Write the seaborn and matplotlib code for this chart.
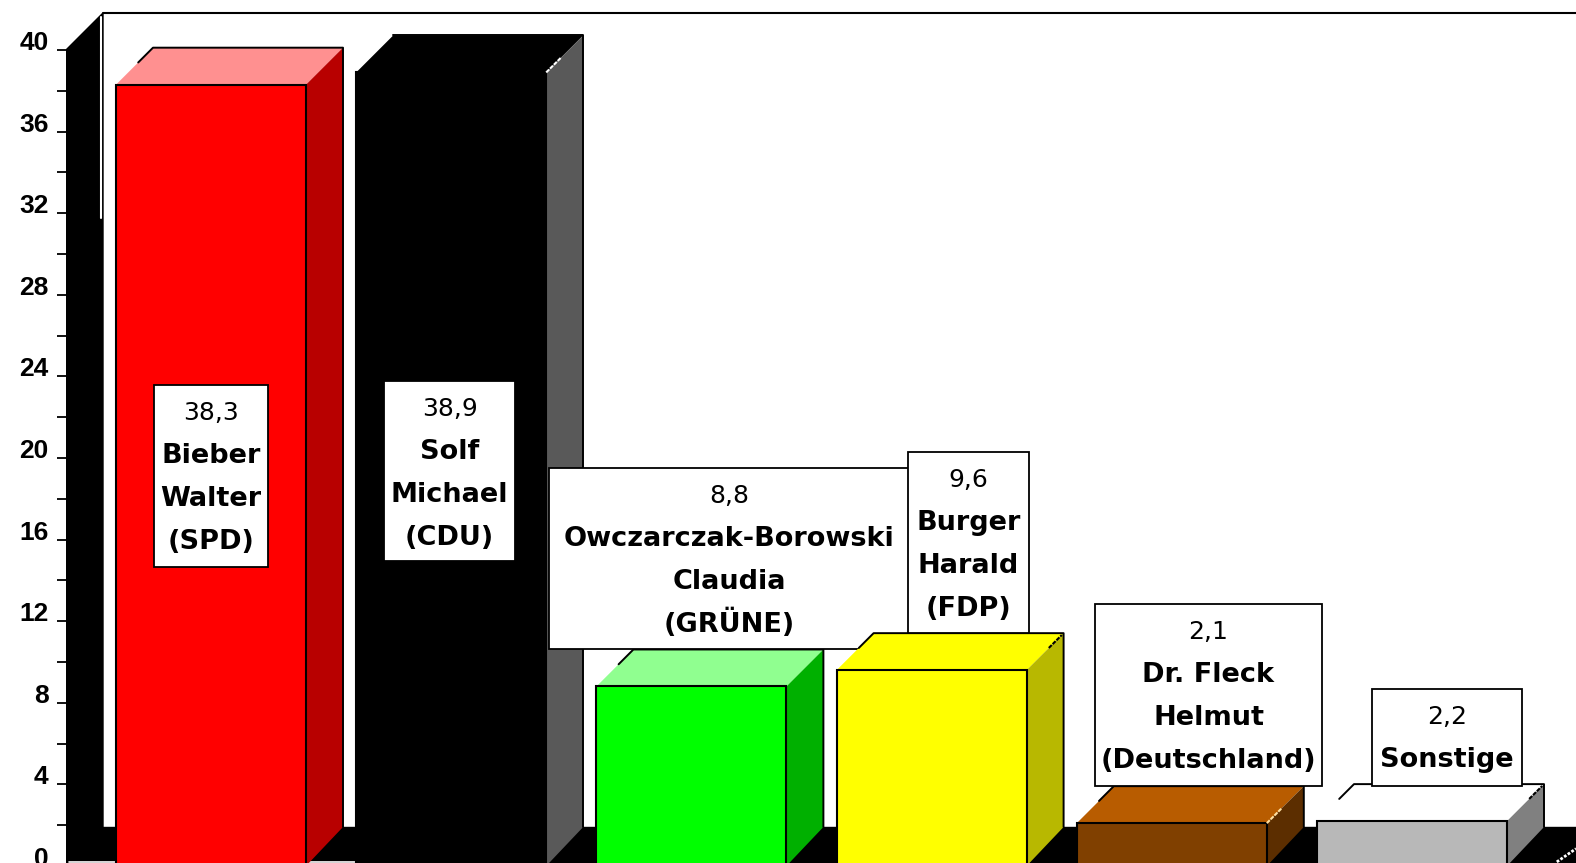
import matplotlib
matplotlib.use("Agg")
import matplotlib.pyplot as plt
import seaborn as sns
import pandas as pd
from matplotlib.patches import Polygon, Rectangle
from matplotlib.transforms import Affine2D

kandidaten = ["Bieber Walter", "Solf Michael", "Owczarczak-Borowski Claudia",
              "Burger Harald", "Dr. Fleck Helmut", "Sonstige"]
werte = [38.3, 38.9, 8.8, 9.6, 2.1, 2.2]
wert_labels = ["38,3", "38,9", "8,8", "9,6", "2,1", "2,2"]
namen = [["Bieber", "Walter", "(SPD)"],
         ["Solf", "Michael", "(CDU)"],
         ["Owczarczak-Borowski", "Claudia", "(GRÜNE)"],
         ["Burger", "Harald", "(FDP)"],
         ["Dr. Fleck", "Helmut", "(Deutschland)"],
         ["Sonstige"]]
front_farben = ["#ff0000", "#000000", "#00ff00", "#ffff00", "#804000", "#b8b8b8"]
top_farben = ["#ff9090", "#000000", "#90ff90", "#ffff00", "#b85c00", "#ffffff"]
seite_farben = ["#b80000", "#595959", "#00b000", "#b8b800", "#5c2e00", "#808080"]
y_ticks = list(range(0, 41, 2))

# label boxes in reference pixels: left, top, right, bottom
boxen = [(154, 385, 268, 567), (384, 381, 515, 561), (549, 468, 909, 649),
         (908, 452, 1029, 633), (1095, 604, 1322, 786), (1372, 689, 1522, 786)]
# little dashes left on the top/side diagonal: colour, start and end along it (0 = front)
diag_striche = [None, ("white", 0.0, 0.4), None, ("black", 0.6, 0.95),
                ("#ffe0a0", 0.0, 0.4), ("black", 0.6, 0.95)]

W, H = 1576, 863
PX_X, PX_Y = 240.2, 20.4   # pixels per category / per percent
X0 = 211                   # pixel centre of first bar
LEFT = 66                  # pixel of axis
ZERO = 866                 # the zero line sits just below the picture edge
DX, DY = 37 / PX_X, 37 / PX_Y
BODEN = 39 / PX_Y          # floor depth

sns.set_theme(style="white")
plt.rcParams["font.family"] = ["DejaVu Sans"]

df = pd.DataFrame({"kandidat": kandidaten, "wert": werte})

fig = plt.figure(figsize=(W / 100, H / 100), dpi=100, facecolor="white")
ax = fig.add_axes([LEFT / W, (H - ZERO) / H, 1 - LEFT / W, ZERO / H])

sns.barplot(data=df, x="kandidat", y="wert", hue="kandidat", palette=front_farben,
            width=190 / PX_X, saturation=1, edgecolor="black", linewidth=1.5,
            legend=False, ax=ax)

x_min, x_max = (LEFT - X0) / PX_X, (W - X0) / PX_X
ax.set_xlim(x_min, x_max)
ax.set_ylim(0, ZERO / PX_Y)
ax.set_xlabel("")
ax.set_ylabel("")
ax.set_xticks([])
sns.despine(ax=ax, left=True, bottom=True)

ax.set_yticks(y_ticks)
ax.set_yticklabels([str(t) if t % 4 == 0 else "" for t in y_ticks],
                   fontsize=19, fontweight="bold", color="black", va="baseline",
                   family="Liberation Sans")
ax.tick_params(axis="y", left=True, length=6.5, width=1.3, color="black", pad=6)

# side wall, floor, back wall top line
ax.add_patch(Polygon([(x_min, 0), (x_min, 40), (x_min + DX, 40 + DY), (x_min + DX, BODEN)],
                     fc="black", ec="black", zorder=1))
ax.add_patch(Rectangle((x_min, 0), x_max - x_min, BODEN, fc="black", ec="black", zorder=1))
ax.plot([x_min + DX, x_max], [40 + DY, 40 + DY], color="black", lw=1.5, zorder=1)
ax.plot([x_min + DX - 0.008] * 2, [31.76, 41.6], color="white", lw=1.5, zorder=2)
# thin white strip along the bottom, only left of the black bar
ax.plot([x_min + 0.013, 0.6], [0.2, 0.2], color="white", lw=1.2, zorder=2)
# corner of the floor on the right
ax.plot([x_max - 0.08, x_max], [0.2, 0.85], color="white", lw=2, ls=(0, (1, 0.6)), zorder=2)

px = Affine2D().scale(1, -1).translate(0, H)

# every bar is drawn with its faces, then its label, so a later bar can cover an earlier label
for i, bar in enumerate(ax.patches[:len(werte)]):
    z = 4 + i * 2
    x, w, h = bar.get_x(), bar.get_width(), bar.get_height()
    bar.set_zorder(z + 0.5)
    ax.add_patch(Polygon([(x, h), (x + DX, h + DY), (x + w + DX, h + DY), (x + w, h)],
                         fc=top_farben[i], ec="none", zorder=z))
    ax.add_patch(Polygon([(x + w, 0), (x + w + DX, BODEN), (x + w + DX, h + DY), (x + w, h)],
                         fc=seite_farben[i], ec="none", zorder=z))
    # back edge of the top, right edge of the side
    start = 1.0 if front_farben[i] == "#000000" else 0.6
    ax.plot([x + start * DX, x + DX, x + w + DX, x + w + DX],
            [h + start * DY, h + DY, h + DY, BODEN],
            color="black", lw=1.4, zorder=z + 0.2)
    strich = diag_striche[i]
    if strich:
        farbe, a, b = strich
        ax.plot([x + w + a * DX, x + w + b * DX], [h + a * DY, h + b * DY],
                color=farbe, lw=1.5, ls=(0, (2, 0.6)), zorder=z + 0.6)

    l, t, r, b = boxen[i]
    ax.add_patch(Rectangle((l, t), r - l, b - t, fc="white", ec="black", lw=1.3,
                           transform=px, zorder=z + 1, clip_on=False))
    cx = (l + r) / 2
    ax.text(cx, t + 35, wert_labels[i], transform=px, ha="center", va="baseline",
            fontsize=18, color="black", zorder=z + 1.5)
    for k, zeile in enumerate(namen[i]):
        ax.text(cx, t + 78 + k * 43, zeile, transform=px, ha="center", va="baseline",
                fontsize=19.5, fontweight="bold", color="black", zorder=z + 1.5)

fig.savefig("out.png", dpi=100)
